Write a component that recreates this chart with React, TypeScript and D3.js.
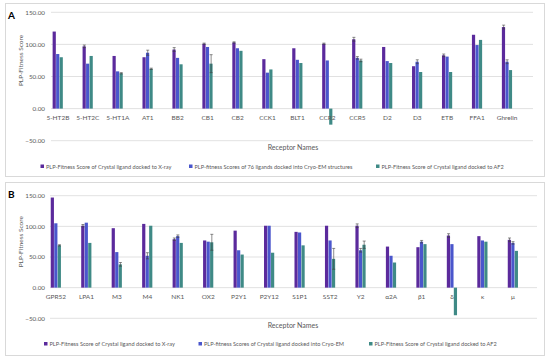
import React from 'react';
import * as d3 from 'd3';

// Panel A
const catsA = ['5-HT2B', '5-HT2C', '5-HT1A', 'AT1', 'BB2', 'CB1', 'CB2', 'CCK1', 'BLT1', 'CCR2', 'CCR5', 'D2', 'D3', 'ETB', 'FFA1', 'Ghrelin'];
const xrayA = [120, 97, 82, 80, 92, 101, 103, 77, 94, 101, 108, 96, 66, 83, 115, 127];
const cryoA = [85, 70, 58, 87, 79, 96, 94, 56, 76, 75, 79, 74, 73, 81, 99, 73];
const af2A = [80, 82, 55, 62, 69, 70, 90, 61, 71, -25, 75, 71, 57, 57, 107, 60];
const xrayErrA = [0, 2, 0, 0, 3, 1, 1, 0, 0, 1, 3, 0, 0, 2, 0, 3];
const cryoErrA = [0, 0, 0, 4, 0, 0, 0, 0, 0, 0, 2, 0, 3, 0, 0, 3];
const af2ErrA = [0, 0, 1, 1, 0, 14, 0, 0, 0, 0, 2, 0, 0, 0, 0, 0];

// Panel B
const catsB = ['GPR52', 'LPA1', 'M3', 'M4', 'NK1', 'OX2', 'P2Y1', 'P2Y12', 'S1P1', 'SST2', 'Y2', 'α2A', 'β1', 'δ', 'κ', 'μ'];
const xrayB = [147, 101, 97, 104, 79, 77, 93, 101, 91, 101, 101, 67, 66, 85, 84, 78];
const cryoB = [105, 106, 58, 52, 84, 75, 61, 101, 90, 77, 61, 52, 75, 71, 77, 73];
const af2B = [69, 73, 38, 101, 73, 74, 54, 57, 69, 47, 70, 41, 71, -45, 75, 60];
const xrayErrB = [0, 2, 0, 0, 2, 0, 0, 0, 0, 0, 3, 0, 0, 3, 0, 3];
const cryoErrB = [0, 0, 0, 5, 2, 0, 0, 0, 0, 0, 3, 0, 2, 0, 0, 2];
const af2ErrB = [1, 0, 3, 0, 0, 13, 0, 0, 0, 17, 6, 0, 0, 0, 0, 0];

const yTicks = [-50, 0, 50, 100, 150];
const colors = ['#5b2a9c', '#4a56cc', '#3f8a86'];

const legendA = [
  'PLP-Fitness Score of Crystal ligand docked to X-ray',
  'PLP-fitness Scores of 76 ligands docked into Cryo-EM structures',
  'PLP-Fitness Score of Crystal ligand docked to AF2',
];
const legendB = [
  'PLP-Fitness Score of Crystal ligand docked to X-ray',
  'PLP-fitness Scores of Crystal ligand docked into Cryo-EM',
  'PLP-Fitness Score of Crystal ligand docked to AF2',
];

const font = 'Lato, "Open Sans", sans-serif';

type PanelProps = {
  label: string;
  top: number;
  cats: string[];
  series: number[][];
  errs: number[][];
  legend: string[];
  legendX: number[];
  bandRange: [number, number];
  gridRange: [number, number];
  yRange: [number, number];
  titleY: number;
  legendY: number;
};

const Panel = (p: PanelProps) => {
  const x = d3.scaleBand<string>().domain(p.cats).range(p.bandRange);
  const groupW = 10.5; // width of one cluster of three bars
  const inner = d3.scaleBand<number>().domain([0, 1, 2]).range([-groupW / 2, groupW / 2]);
  const y = d3.scaleLinear().domain([-50, 150]).range(p.yRange);
  const cx = (c: string) => (x(c) as number) + x.bandwidth() / 2;
  const fmt = d3.format('.2f');

  return (
    <g>
      <rect x={5.5} y={p.top + 0.5} width={539} height={173} fill="#fff" stroke="#d9d9d9" strokeWidth={1} />
      <text x={8} y={p.top + 16} fontFamily={font} fontWeight="bold" fontSize={10} fill="#000">{p.label}</text>
      {yTicks.map((t) => (
        <g key={t}>
          <line x1={p.gridRange[0]} x2={p.gridRange[1]} y1={y(t)} y2={y(t)} stroke="#d9d9d9" strokeWidth={0.8} />
          <text x={45} y={y(t)} dy="0.35em" textAnchor="end" fontFamily={font} fontSize={6.3} fill="#595959">{fmt(t)}</text>
        </g>
      ))}
      {p.series.map((vals, si) =>
        vals.map((v, i) => {
          const bx = cx(p.cats[i]) + (inner(si) as number);
          return (
            <rect key={`${si}-${i}`} x={bx} y={Math.min(y(v), y(0))} width={inner.bandwidth() - 0.3} height={Math.abs(y(v) - y(0))} fill={colors[si]} />
          );
        })
      )}
      {p.errs.map((errs, si) =>
        errs.map((e, i) => {
          if (!e) return null;
          const v = p.series[si][i];
          const ex = cx(p.cats[i]) + (inner(si) as number) + inner.bandwidth() / 2;
          return (
            <g key={`e${si}-${i}`} stroke="#404040" strokeWidth={0.6}>
              <line x1={ex} x2={ex} y1={y(v + e)} y2={y(v - e)} />
              <line x1={ex - 1.5} x2={ex + 1.5} y1={y(v + e)} y2={y(v + e)} />
              <line x1={ex - 1.5} x2={ex + 1.5} y1={y(v - e)} y2={y(v - e)} />
            </g>
          );
        })
      )}
      {p.cats.map((c) => (
        <text key={c} x={cx(c)} y={y(0) + 11} textAnchor="middle" fontFamily={font} fontSize={6.5} fill="#595959">{c}</text>
      ))}
      <text transform={`translate(23,${(y(150) + y(0)) / 2}) rotate(-90)`} textAnchor="middle" fontFamily={font} fontSize={6.5} fill="#595959">PLP-Fitness Score</text>
      <text x={293} y={p.titleY} textAnchor="middle" fontFamily={font} fontSize={7} fill="#595959">Receptor Names</text>
      {p.legend.map((l, i) => (
        <g key={l}>
          <rect x={p.legendX[i]} y={p.legendY - 4} width={3.5} height={3.5} fill={colors[i]} />
          <text x={p.legendX[i] + 5.5} y={p.legendY} fontFamily={font} fontSize={5.6} fill="#595959">{l}</text>
        </g>
      ))}
    </g>
  );
};

export default function App() {
  return (
    <svg width={550} height={360} style={{ position: 'absolute', left: 0, top: 0, background: '#fff' }}>
      <Panel
        label="A"
        top={3}
        cats={catsA}
        series={[xrayA, cryoA, af2A]}
        errs={[xrayErrA, cryoErrA, af2ErrA]}
        legend={legendA}
        legendX={[40.5, 189, 376]}
        bandRange={[42.9, 522.1]}
        gridRange={[51, 533]}
        yRange={[140.7, 12.3]}
        titleY={150}
        legendY={168.5}
      />
      <Panel
        label="B"
        top={182}
        cats={catsB}
        series={[xrayB, cryoB, af2B]}
        errs={[xrayErrB, cryoErrB, af2ErrB]}
        legend={legendB}
        legendX={[44, 198.5, 369]}
        bandRange={[40.75, 528.25]}
        gridRange={[50, 537]}
        yRange={[318.3, 195.7]}
        titleY={328}
        legendY={346}
      />
    </svg>
  );
}
